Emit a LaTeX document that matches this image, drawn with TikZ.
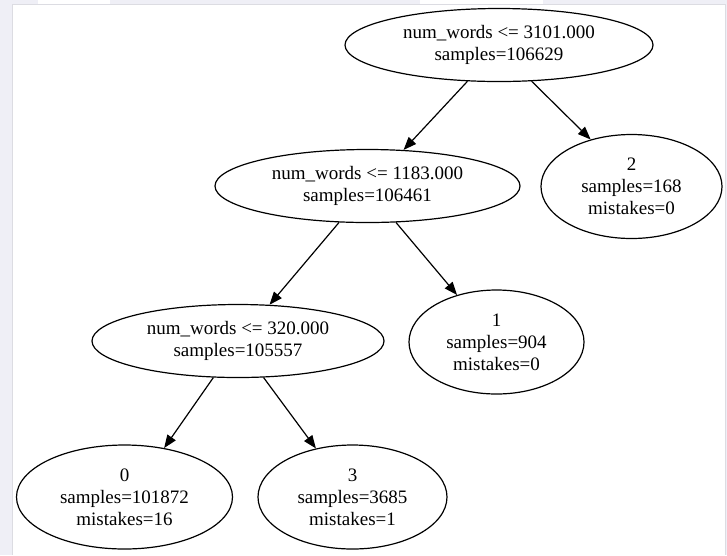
\documentclass[tikz,border=0pt]{standalone}
\usepackage{fontspec}
\setmainfont{Liberation Serif}
\usetikzlibrary{shapes.geometric,arrows.meta}

\definecolor{pagebg}{HTML}{EFEFF6}
\definecolor{framegray}{HTML}{DCDCE2}

\tikzset{
  treenode/.style={ellipse, draw=black, line width=1.2pt, inner sep=0pt,
    align=center, font=\fontsize{19}{22}\selectfont},
  split/.style={treenode, minimum width=#1, minimum height=73pt},
  leaf/.style={treenode, minimum width=#1, minimum height=104pt},
  edge/.style={draw=black, line width=1.2pt,
    -{Triangle[length=13pt,width=10pt]}},
}

\begin{document}
\begin{tikzpicture}[x=1pt,y=-1pt]
  % page and backdrop
  \fill[pagebg] (0,0) rectangle (727,555);
  \fill[white] (12,4) rectangle (725,555);
  \fill[white] (38,0) rectangle (110,4);
  \fill[white] (420,0) rectangle (543,4);
  \draw[framegray, line width=0.6pt] (12,555) -- (12,4) -- (725,4) -- (725,555);
  \useasboundingbox (0,0) rectangle (727,555);

  % splits
  \node[split=308pt] (root) at (499,45)    {num\_words <= 3101.000\\samples=106629};
  \node[split=305pt] (n1)   at (367.5,186) {num\_words <= 1183.000\\samples=106461};
  \node[split=292pt] (n2)   at (238,341)   {num\_words <= 320.000\\samples=105557};

  % leaves
  \node[leaf=181pt] (c2) at (631.5,186.5) {2\\samples=168\\mistakes=0};
  \node[leaf=175pt] (c1) at (496.5,342)   {1\\samples=904\\mistakes=0};
  \node[leaf=216pt] (c0) at (124.5,497)   {0\\samples=101872\\mistakes=16};
  \node[leaf=189pt] (c3) at (352.5,497)   {3\\samples=3685\\mistakes=1};

  % edges
  \draw[edge] (root.229)   -- (n1.45.4);
  \draw[edge] (root.312.6) -- (c2.131.8);
  \draw[edge] (n1.232.2)   -- (n2.49.4);
  \draw[edge] (n1.308.8)   -- (c1.130);
  \draw[edge] (n2.236.3)   -- (c0.51.6);
  \draw[edge] (n2.305.7)   -- (c3.127);
\end{tikzpicture}
\end{document}
